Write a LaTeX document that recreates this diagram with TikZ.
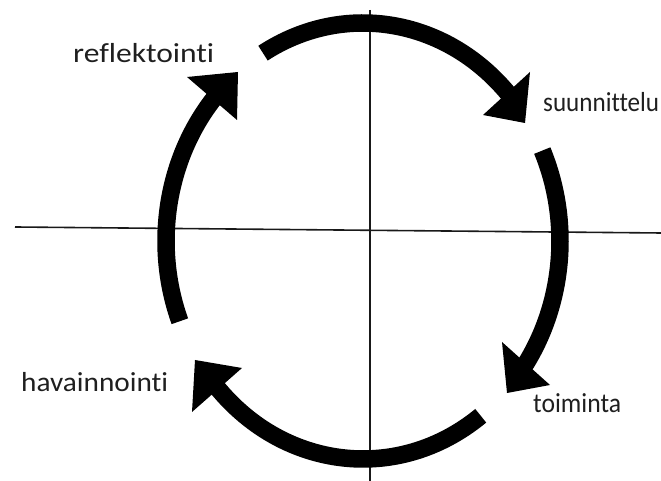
\documentclass[tikz,border=0pt]{standalone}
\usepackage{fontspec}
\usepackage{graphicx}
\setmainfont[Ligatures=NoCommon]{Carlito}
\newcommand{\fitw}[2]{\resizebox{#1}{\height}{#2}}
\begin{document}
\begin{tikzpicture}[x=1pt,y=1pt,
  shaft/.style={line width=17.5pt, black},
  head/.style={fill=black},
  axisline/.style={line width=1.6pt, black!90},
  lbl/.style={anchor=base west, inner sep=0pt, font=\fontsize{27.5}{32}\selectfont, text=black!88}]
\useasboundingbox (0,0) rectangle (661,481);
\coordinate (O) at (363,240);
% axes
\coordinate (hL) at (15,254);
\coordinate (hR) at (661,248);
\coordinate (vT) at (370,471);
\coordinate (vB) at (370,0);
\draw[axisline] (hL) -- (hR);
\draw[axisline] (vT) -- (vB);
% top arrow
\draw[shaft] (O) ++(120.5:197pt and 218pt) arc[start angle=120.5, end angle=41, x radius=197pt, y radius=218pt];
\fill[head] (530,409) -- (483,366) -- (525,358) -- cycle;
% right arrow
\draw[shaft] (O) ++(24.5:197pt and 218pt) arc[start angle=24.5, end angle=-36, x radius=197pt, y radius=218pt];
\fill[head] (502,139) -- (550,96) -- (507,88) -- cycle;
% bottom arrow
\draw[shaft] (O) ++(-53.3:197pt and 218pt) arc[start angle=-53.3, end angle=-139.5, x radius=197pt, y radius=218pt];
\fill[head] (242,113) -- (192,69) -- (195,121) -- cycle;
% left arrow
\draw[shaft] (O) ++(201.6:197pt and 218pt) arc[start angle=201.6, end angle=137, x radius=197pt, y radius=218pt];
\fill[head] (187,404) -- (237,361) -- (238,409) -- cycle;
% labels
\node[lbl] (refl) at (73,418) {\fitw{141pt}{reflektointi}};
\node[lbl] (suun) at (543,369) {\fitw{116pt}{suunnittelu}};
\node[lbl] (toim) at (533,68) {\fitw{88pt}{toiminta}};
\node[lbl] (hav) at (21,89) {\fitw{147pt}{havainnointi}};
\end{tikzpicture}
\end{document}
